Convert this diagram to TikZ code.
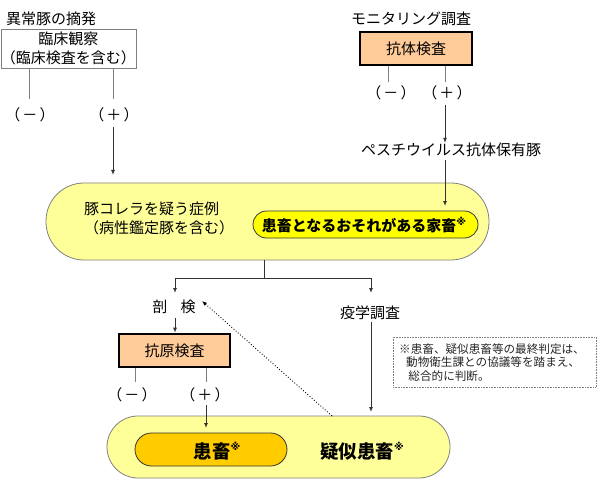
\documentclass[tikz,border=0pt]{standalone}
\usepackage{fontspec}
\setmainfont{Noto Sans CJK JP}
\newfontfamily\symfont{DejaVu Sans}
\usetikzlibrary{arrows.meta}
\definecolor{lightyel}{HTML}{FFFF99}
\definecolor{brightyel}{HTML}{FFFF00}
\definecolor{gold}{HTML}{FFCC00}
\definecolor{peach}{HTML}{FFCC99}
\definecolor{grayline}{HTML}{808080}
\definecolor{darkline}{HTML}{333333}
\newcommand{\kome}{\raisebox{0.42em}{\symfont\fontsize{10}{10}\selectfont\bfseries ※}}
\newcommand{\pmsign}[1]{（\hspace{0.15em}#1\hspace{0.15em}）}
\tikzset{
  txt/.style={inner sep=0pt, font=\fontsize{15}{18}\selectfont},
  plainbox/.style={draw=grayline, line width=0.8pt, fill=white, inner sep=0pt, font=\fontsize{15}{19}\selectfont, align=center},
  testbox/.style={draw=black, line width=2.6pt, fill=peach, inner sep=0pt, font=\fontsize{15}{18}\selectfont},
  bigoval/.style={draw=grayline, line width=0.8pt, fill=lightyel, rounded corners=38pt},
  inoval/.style={draw=darkline, line width=0.8pt, fill=brightyel, rounded corners=13.5pt},
  goldoval/.style={draw=darkline, line width=0.8pt, fill=gold, rounded corners=16.5pt},
  conn/.style={draw=grayline, line width=0.9pt},
  arr/.style={draw=darkline, line width=0.9pt, -{Latex[length=5pt,width=4pt]}},
  dotarr/.style={draw=black, line width=0.9pt, dotted, -{Latex[length=5pt,width=4pt]}},
  note/.style={draw=grayline, line width=0.6pt, densely dotted, fill=white}
}
\begin{document}
\begin{tikzpicture}[x=1pt,y=-1pt]
\useasboundingbox (0,0) rectangle (600,492);
% left top
\node[txt, anchor=west] (t1) at (6,19) {異常豚の摘発};
\node[plainbox, minimum width=125pt, minimum height=39pt] (rinsho) at (68.5,48.5) {臨床観察\\（臨床検査を含む）};
\node[txt] (lminus) at (30,115) {\pmsign{－}};
\node[txt] (lplus) at (114,115) {\pmsign{＋}};
\coordinate (lm1) at (29,68);
\coordinate (lm2) at (29,99);
\coordinate (lp1) at (113,68);
\coordinate (lp2) at (113,99);
\coordinate (lp3) at (113,127);
\draw[conn] (lm1) -- (lm2);
\draw[conn] (lp1) -- (lp2);
% right top
\node[txt] (t2) at (411,19) {モニタリング調査};
\node[testbox, minimum width=112pt, minimum height=33pt] (kotai) at (416,48.5) {抗体検査};
\node[txt] (rminus) at (391,93) {\pmsign{－}};
\node[txt] (rplus) at (447,93) {\pmsign{＋}};
\coordinate (rm1) at (388,66);
\coordinate (rm2) at (388,82);
\coordinate (rp1) at (445,66);
\coordinate (rp2) at (445,82);
\coordinate (rp3) at (445,105);
\draw[conn] (rm1) -- (rm2);
\draw[conn] (rp1) -- (rp2);
\node[txt] (pesti) at (451,150) {ペスチウイルス抗体保有豚};
\coordinate (pst) at (445,160);
% main oval
\path[bigoval] (46,183) rectangle (489,260);
\node (mainoval) at (267.5,221.5) {};
\node[txt, anchor=north west, align=left, font=\fontsize{15}{19}\selectfont] (suspect) at (84,202) {豚コレラを疑う症例\\（病性鑑定豚を含む）};
\path[inoval] (253,211) rectangle (478,238);
\node[txt, font=\fontsize{15}{18}\selectfont\bfseries] (kanja1) at (364,225) {患畜となるおそれがある家畜\kome};
\coordinate (inTop) at (445,206);
\draw[arr] (lp3) -- (113,175);
\draw[arr] (rp3) -- (pesti.north -| rp3);
\draw[arr] (pst) -- (inTop);
% branch
\coordinate (mb) at (264,260);
\coordinate (mj) at (264,278);
\coordinate (bl) at (175,278);
\coordinate (br) at (371,278);
\node[txt] (boken) at (174,307) {剖\hspace{0.9em}検};
\node[txt] (ekigaku) at (370,313) {疫学調査};
\draw[conn, draw=darkline] (mb) -- (mj);
\draw[conn, draw=darkline] (bl) -- (br);
\draw[arr] (bl) -- (175,293);
\draw[arr] (br) -- (371,293);
\node[testbox, minimum width=111pt, minimum height=33pt] (kogen) at (174.5,350.5) {抗原検査};
\draw[arr] (175,318) -- (kogen.north -| 175,0);
\node[txt] (bminus) at (132,395) {\pmsign{－}};
\node[txt] (bplus) at (205,395) {\pmsign{＋}};
\coordinate (bm1) at (135,368);
\coordinate (bm2) at (135,382);
\coordinate (bp1) at (206,368);
\coordinate (bp2) at (206,382);
\coordinate (bp3) at (206,405);
\draw[conn] (bm1) -- (bm2);
\draw[conn] (bp1) -- (bp2);
% note
\node[note, minimum width=203pt, minimum height=50pt] (notebox) at (494.5,362) {};
\node[anchor=north west, inner sep=0pt, align=left, font=\fontsize{11.6}{13.8}\selectfont, text=black!85] (notetxt) at (399,343) {※患畜、疑似患畜等の最終判定は、\\\hspace{0.6em}動物衛生課との協議等を踏まえ、\\\hspace{0.8em}総合的に判断。};
% bottom oval
\path[bigoval, rounded corners=31pt] (107,416) rectangle (450,478);
\path[goldoval] (135,433) rectangle (287,466);
\node[txt, font=\fontsize{18.5}{20}\selectfont\bfseries] (kanja) at (217,451) {患畜\kome};
\node[txt, font=\fontsize{18.5}{20}\selectfont\bfseries] (giji) at (362,451) {疑似患畜\kome};
\draw[arr] (bp3) -- (206,428);
\draw[arr] (371,322) -- (371,412);
\coordinate (dotstart) at (332,416);
\coordinate (dotend) at (202,301);
\draw[dotarr] (dotstart) -- (dotend);
\end{tikzpicture}
\end{document}
